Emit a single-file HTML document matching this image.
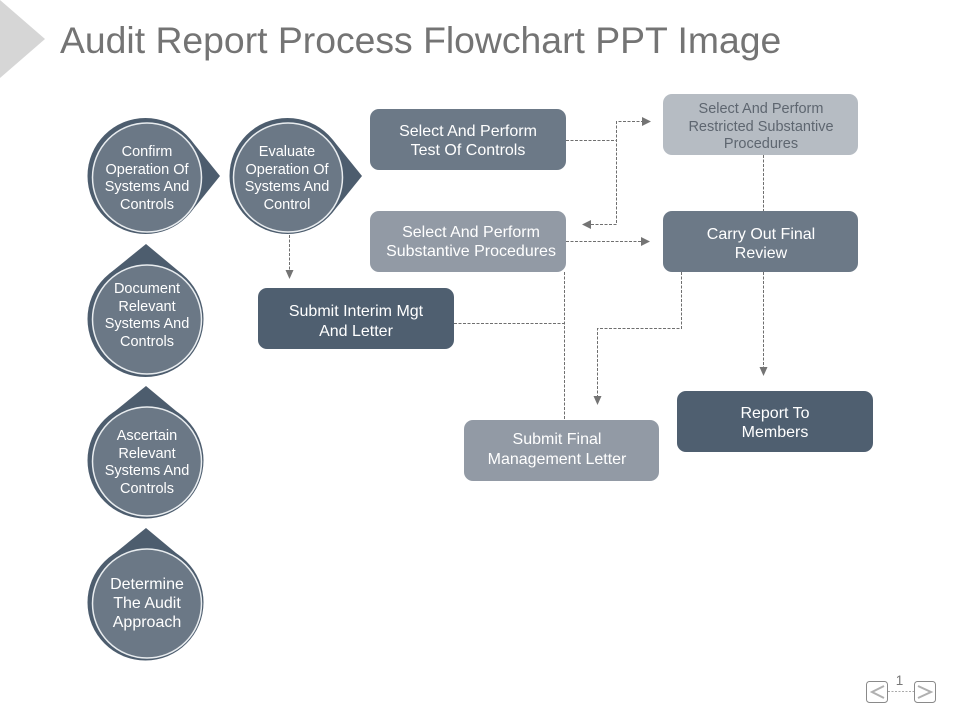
<!DOCTYPE html>
<html><head><meta charset="utf-8"><style>
html,body{margin:0;padding:0;background:#fff}
svg{display:block}
text{font-family:"Liberation Sans",sans-serif;text-anchor:middle;fill:#fff}
.c{font-size:14.5px}
.b{font-size:16px}
.l{fill:none;stroke:#6f6f6f;stroke-width:1;stroke-dasharray:3 1.5}
.a{fill:#747474}
.o{fill:#4d5d6e}
.i{fill:#6b7886;stroke:#e8ecef;stroke-width:1.5}
</style></head><body>
<svg width="960" height="720" viewBox="0 0 960 720" xmlns="http://www.w3.org/2000/svg">
<polygon points="0,0 45,39 0,78" fill="#d6d6d6"/>
<text x="60" y="53" style="text-anchor:start;fill:#747474;font-size:37.35px">Audit Report Process Flowchart PPT Image</text>

<!-- Teardrops -->
<polygon class="o" points="220,176 190.500,139.500 190.500,212.500"/>
<circle class="o" cx="145.500" cy="176" r="58"/>
<circle class="i" cx="147" cy="177.500" r="54.500"/>
<text class="c"><tspan x="147" y="156">Confirm</tspan><tspan x="147" y="174">Operation Of</tspan><tspan x="147" y="191">Systems And</tspan><tspan x="147" y="209">Controls</tspan></text>

<polygon class="o" points="362,176 332.500,139.500 332.500,212.500"/>
<circle class="o" cx="287.500" cy="176" r="58"/>
<circle class="i" cx="288" cy="177.500" r="54.500"/>
<text class="c"><tspan x="287" y="156">Evaluate</tspan><tspan x="287" y="174">Operation Of</tspan><tspan x="287" y="191">Systems And</tspan><tspan x="287" y="209">Control</tspan></text>

<polygon class="o" points="146,244 109,274 182,274"/>
<circle class="o" cx="145.500" cy="319" r="58"/>
<circle class="i" cx="147" cy="319.500" r="54.500"/>
<text class="c"><tspan x="147" y="293">Document</tspan><tspan x="147" y="311">Relevant</tspan><tspan x="147" y="328">Systems And</tspan><tspan x="147" y="346">Controls</tspan></text>

<polygon class="o" points="146,386 109,416 182,416"/>
<circle class="o" cx="145.500" cy="460.500" r="58"/>
<circle class="i" cx="147" cy="461.500" r="54.500"/>
<text class="c"><tspan x="147" y="440">Ascertain</tspan><tspan x="147" y="458">Relevant</tspan><tspan x="147" y="475">Systems And</tspan><tspan x="147" y="493">Controls</tspan></text>

<polygon class="o" points="146,528 109,558 182,558"/>
<circle class="o" cx="145.500" cy="602.500" r="58"/>
<circle class="i" cx="147" cy="603.500" r="54.500"/>
<text style="font-size:16px"><tspan x="147" y="589">Determine</tspan><tspan x="147" y="608">The Audit</tspan><tspan x="147" y="627">Approach</tspan></text>

<!-- Connectors -->
<path class="l" d="M289.500 235V272"/><polygon class="a" points="285.500,270 293.500,270 289.500,279"/>
<path class="l" d="M566 140.500H616.500M644 121.500H616.500V224.500H589"/>
<polygon class="a" points="642,117 651,121.500 642,126"/>
<polygon class="a" points="591,220 582,224.500 591,229"/>
<path class="l" d="M566 241.500H643"/><polygon class="a" points="641,237 650,241.500 641,246"/>
<path class="l" d="M763.500 155V211M763.500 272V369"/><polygon class="a" points="759.500,367 767.500,367 763.500,376"/>
<path class="l" d="M681.500 272V328.500H597.500V398"/><polygon class="a" points="593.500,396 601.500,396 597.500,405"/>
<path class="l" d="M454 323.500H564.500M564.500 272V420"/>

<!-- Boxes -->
<rect x="370" y="109" width="196" height="61" rx="9" fill="#6c7987"/>
<text class="b"><tspan x="468" y="136">Select And Perform</tspan><tspan x="468" y="155">Test Of Controls</tspan></text>

<rect x="370" y="211" width="196" height="61" rx="9" fill="#929aa5"/>
<text class="b"><tspan x="471" y="237">Select And Perform</tspan><tspan x="471" y="256">Substantive Procedures</tspan></text>

<rect x="663" y="94" width="195" height="61" rx="9" fill="#b6bcc3"/>
<text style="font-size:14.5px;fill:#5e6670"><tspan x="761" y="113">Select And Perform</tspan><tspan x="761" y="131">Restricted Substantive</tspan><tspan x="761" y="148">Procedures</tspan></text>

<rect x="663" y="211" width="195" height="61" rx="9" fill="#6c7987"/>
<text class="b"><tspan x="761" y="239">Carry Out Final</tspan><tspan x="761" y="258">Review</tspan></text>

<rect x="258" y="288" width="196" height="61" rx="9" fill="#4f5f70"/>
<text class="b"><tspan x="356" y="316">Submit Interim Mgt</tspan><tspan x="356" y="336">And Letter</tspan></text>

<rect x="464" y="420" width="195" height="61" rx="9" fill="#929aa5"/>
<text class="b"><tspan x="557" y="444">Submit Final</tspan><tspan x="557" y="464">Management Letter</tspan></text>

<rect x="677" y="391" width="196" height="61" rx="9" fill="#4f5f70"/>
<text class="b"><tspan x="775" y="418">Report To</tspan><tspan x="775" y="437">Members</tspan></text>

<!-- Pager -->
<rect x="866.500" y="681.500" width="21" height="21" rx="3" fill="#fff" stroke="#8a8a8a"/>
<rect x="914.500" y="681.500" width="21" height="21" rx="3" fill="#fff" stroke="#8a8a8a"/>
<path d="M884 686L872 692L884 698" fill="none" stroke="#b0b0b0" stroke-width="2"/>
<path d="M918 686L931 692L918 698" fill="none" stroke="#b0b0b0" stroke-width="2"/>
<path d="M888 691.500H914" stroke="#aaa" stroke-width="1" stroke-dasharray="2 1.500"/>
<text x="899.500" y="685" style="font-size:13.5px;fill:#777">1</text>
</svg>
</body></html>
